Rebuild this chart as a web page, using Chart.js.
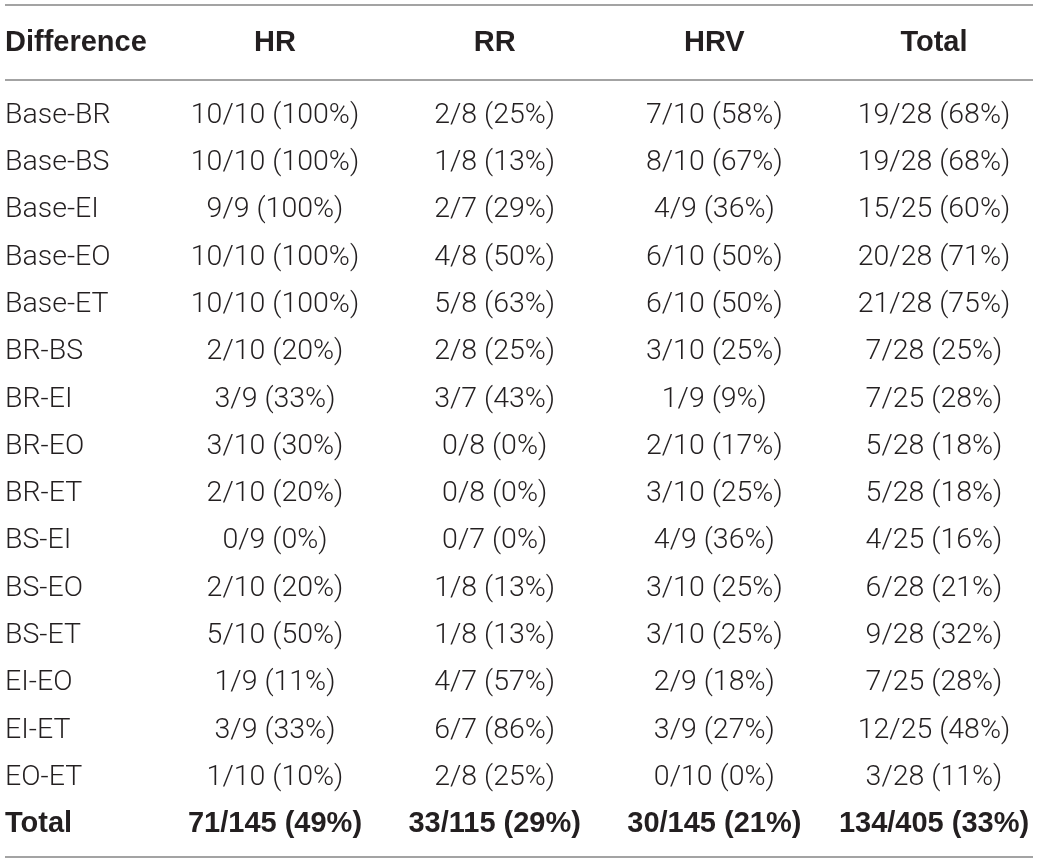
<!DOCTYPE html>
<html>
<head>
<meta charset="utf-8">
<script src="https://cdn.jsdelivr.net/npm/chart.js@4.4.1/dist/chart.umd.min.js"></script>
<style>
  html, body { margin: 0; padding: 0; background: #fff; }
  #table { display: block; }
</style>
</head>
<body>
<canvas id="table" width="1039" height="864"></canvas>
<script>
const firstHeader = "Difference";
const columns = ["HR", "RR", "HRV", "Total"];

const rowLabels = [
  "Base-BR", "Base-BS", "Base-EI", "Base-EO", "Base-ET",
  "BR-BS", "BR-EI", "BR-EO", "BR-ET",
  "BS-EI", "BS-EO", "BS-ET",
  "EI-EO", "EI-ET", "EO-ET", "Total"
];

const hrCells = [
  "10/10 (100%)", "10/10 (100%)", "9/9 (100%)", "10/10 (100%)", "10/10 (100%)",
  "2/10 (20%)", "3/9 (33%)", "3/10 (30%)", "2/10 (20%)",
  "0/9 (0%)", "2/10 (20%)", "5/10 (50%)",
  "1/9 (11%)", "3/9 (33%)", "1/10 (10%)", "71/145 (49%)"
];
const rrCells = [
  "2/8 (25%)", "1/8 (13%)", "2/7 (29%)", "4/8 (50%)", "5/8 (63%)",
  "2/8 (25%)", "3/7 (43%)", "0/8 (0%)", "0/8 (0%)",
  "0/7 (0%)", "1/8 (13%)", "1/8 (13%)",
  "4/7 (57%)", "6/7 (86%)", "2/8 (25%)", "33/115 (29%)"
];
const hrvCells = [
  "7/10 (58%)", "8/10 (67%)", "4/9 (36%)", "6/10 (50%)", "6/10 (50%)",
  "3/10 (25%)", "1/9 (9%)", "2/10 (17%)", "3/10 (25%)",
  "4/9 (36%)", "3/10 (25%)", "3/10 (25%)",
  "2/9 (18%)", "3/9 (27%)", "0/10 (0%)", "30/145 (21%)"
];
const totalCells = [
  "19/28 (68%)", "19/28 (68%)", "15/25 (60%)", "20/28 (71%)", "21/28 (75%)",
  "7/28 (25%)", "7/25 (28%)", "5/28 (18%)", "5/28 (18%)",
  "4/25 (16%)", "6/28 (21%)", "9/28 (32%)",
  "7/25 (28%)", "12/25 (48%)", "3/28 (11%)", "134/405 (33%)"
];

const cellColumns = [hrCells, rrCells, hrvCells, totalCells];

const textColor = "#231f20";
const ruleColor = "#a3a3a3";
const lightFont = "300 28.5px Roboto, 'Liberation Sans', sans-serif";
const boldFont = "bold 29px 'Liberation Sans', Arial, sans-serif";
const capShift = 10; // half the cap height, to centre digits on the row

// each column is a dataset of invisible points; the plugin writes the cell text there
const datasets = columns.map((col, c) => ({
  label: col,
  data: rowLabels.map((row, r) => ({ x: col, y: row, text: cellColumns[c][r] })),
  pointRadius: 0,
  pointHoverRadius: 0
}));

const tablePlugin = {
  id: "tableText",
  afterDatasetsDraw(chart) {
    const ctx = chart.ctx;
    const area = chart.chartArea;
    const xs = chart.scales.x;
    const ys = chart.scales.y;
    const headerY = area.top - 48;
    const lastRow = rowLabels.length - 1;

    ctx.save();
    // rules
    ctx.strokeStyle = ruleColor;
    ctx.lineWidth = 2;
    [5, area.top - 9, area.bottom + 11].forEach(y => {
      ctx.beginPath();
      ctx.moveTo(5, y);
      ctx.lineTo(1033, y);
      ctx.stroke();
    });

    ctx.fillStyle = textColor;
    ctx.textBaseline = "alphabetic";

    // header
    ctx.font = boldFont;
    ctx.textAlign = "left";
    ctx.fillText(firstHeader, 5, headerY + capShift);
    ctx.textAlign = "center";
    columns.forEach((col, c) => ctx.fillText(col, xs.getPixelForValue(c), headerY + capShift));

    // row labels
    ctx.textAlign = "left";
    rowLabels.forEach((row, r) => {
      ctx.font = r === lastRow ? boldFont : lightFont;
      ctx.fillText(row, 5, ys.getPixelForValue(r) + capShift);
    });

    // cells
    ctx.textAlign = "center";
    chart.data.datasets.forEach((ds, c) => {
      const meta = chart.getDatasetMeta(c);
      meta.data.forEach((pt, r) => {
        ctx.font = r === lastRow ? boldFont : lightFont;
        ctx.fillText(ds.data[r].text, pt.x, pt.y + capShift);
      });
    });
    ctx.restore();
  }
};

new Chart(document.getElementById("table"), {
  type: "scatter",
  data: { datasets },
  options: {
    responsive: false,
    animation: false,
    events: [],
    layout: { padding: { left: 275, right: 105, top: 89, bottom: 18 } },
    plugins: { legend: { display: false }, tooltip: { enabled: false } },
    scales: {
      x: { type: "category", labels: columns, offset: false, display: false },
      y: { type: "category", labels: rowLabels, offset: true, display: false }
    }
  },
  plugins: [tablePlugin]
});
</script>
</body>
</html>
